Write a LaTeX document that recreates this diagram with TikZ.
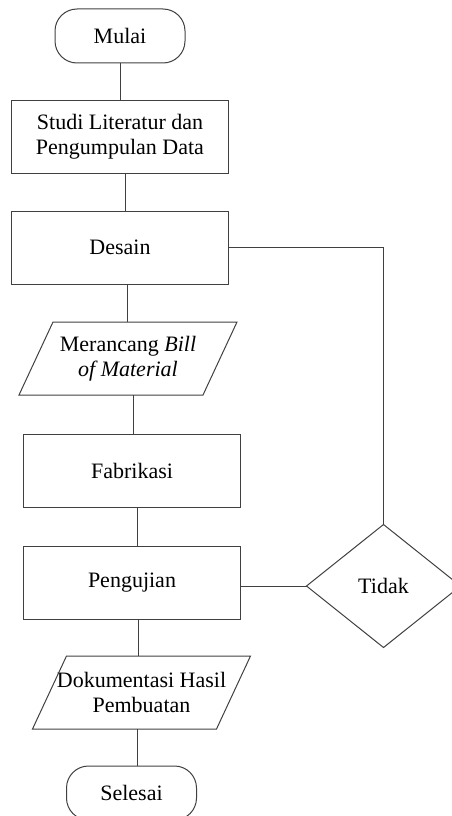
\documentclass[tikz,border=0pt]{standalone}
\usepackage{fontspec}
\setmainfont{Liberation Serif}
\usepackage{tikz}
\usetikzlibrary{shapes,positioning}

\begin{document}
\begin{tikzpicture}[
    x=1pt, y=-1pt,
    every node/.style={outer sep=0pt, font=\fontsize{22}{25}\selectfont},
    term/.style={rectangle, draw=black!75, line width=1pt, rounded corners=22pt, minimum width=130pt, minimum height=54pt},
    proc/.style={rectangle, draw=black!75, line width=1pt, align=center, minimum width=217pt, minimum height=73pt},
    io/.style={rectangle, align=center, inner sep=0pt, minimum width=184pt, minimum height=73pt},
    dec/.style={diamond, draw=black!75, line width=1pt, minimum width=154pt, minimum height=123pt, inner sep=0pt},
    line/.style={draw=black!75, line width=1pt}
]
\useasboundingbox (0,0) rectangle (451,816);

\node[term] (mulai) at (120,36) {Mulai};
\node[proc, below=37pt of mulai] (studi) {Studi Literatur dan\\Pengumpulan Data};
\node[proc, below=38pt of studi] (desain) {Desain};
\node[io, below=38pt of desain, xshift=8pt] (bom) {Merancang \textit{Bill}\\\textit{of Material}};
\node[proc, below=39pt of bom, xshift=4pt] (fabrikasi) {Fabrikasi};
\node[proc, below=39pt of fabrikasi] (pengujian) {Pengujian};
\node[io, below=37pt of pengujian, xshift=9.5pt] (dokumentasi) {Dokumentasi Hasil\\Pembuatan};
\node[term, below=37pt of dokumentasi, xshift=-10pt] (selesai) {Selesai};
\node[dec, right=66pt of pengujian, yshift=-3.5pt] (tidak) {Tidak};

\foreach \n in {bom, dokumentasi}
    \draw[line] ([xshift=17pt]\n.north west) -- ([xshift=17pt]\n.north east) -- ([xshift=-17pt]\n.south east) -- ([xshift=-17pt]\n.south west) -- cycle;

\draw[line] (mulai) -- (studi);
\draw[line] ([xshift=5pt]studi.south) -- ([xshift=5pt]studi.south |- desain.north);
\draw[line] ([xshift=7pt]desain.south) -- ([xshift=7pt]desain.south |- bom.north);
\draw[line] ([xshift=5pt]bom.south) -- ([xshift=5pt]bom.south |- fabrikasi.north);
\draw[line] ([xshift=5pt]fabrikasi.south) -- ([xshift=5pt]fabrikasi.south |- pengujian.north);
\draw[line] ([xshift=6pt]pengujian.south) -- ([xshift=6pt]pengujian.south |- dokumentasi.north);
\draw[line] ([xshift=-4pt]dokumentasi.south) -- ([xshift=-4pt]dokumentasi.south |- selesai.north);
\draw[line] (tidak.west) -- (tidak.west -| pengujian.east);
\draw[line] (tidak.north) |- (desain.east);

\end{tikzpicture}
\end{document}
